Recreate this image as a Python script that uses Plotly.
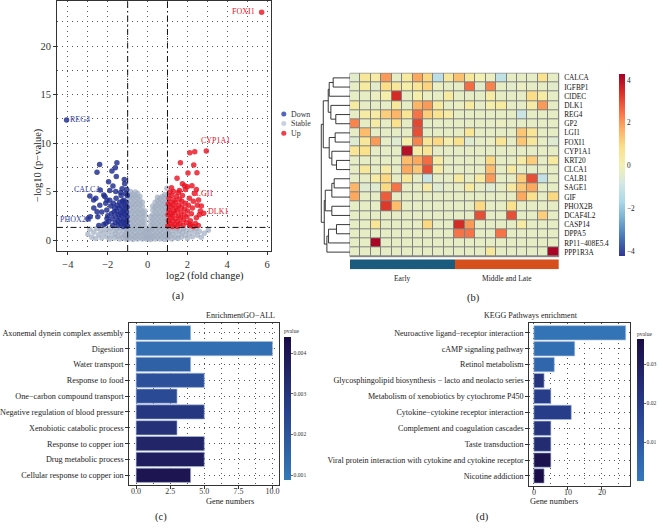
import math
import plotly.graph_objects as go

W, H = 659, 531
FONT = "Liberation Serif, Times New Roman, serif"


def px(x):
    return x / W


def py(y):
    return 1 - y / H


# ------------------------------------------------------------------ (a) volcano data
# stable genes: columns of (log2FC) -> list of -log10(p)
STABLE_COLS = {
    -0.98: [0.1, 0.55, 1.0, 1.5, 1.95, 2.45, 2.9, 3.4, 3.85, 4.3, 4.75],
    -0.86: [0.3, 0.8, 1.25, 1.7, 2.2, 2.65, 3.15, 3.6, 4.1, 4.55, 5.0],
    -0.74: [0.05, 0.5, 1.0, 1.45, 1.95, 2.4, 2.9, 3.35, 3.8, 4.3, 4.7],
    -0.62: [0.25, 0.7, 1.2, 1.65, 2.15, 2.6, 3.05, 3.55, 4.0, 4.5, 4.95],
    -0.50: [0.1, 0.55, 1.05, 1.5, 2.0, 2.45, 2.95, 3.4, 3.9, 4.35, 4.8],
    -0.38: [0.3, 0.75, 1.25, 1.7, 2.2, 2.65, 3.1, 3.6, 4.05, 4.5],
    -0.26: [0.1, 0.6, 1.05, 1.55, 2.0, 2.5, 2.95, 3.45, 3.9],
    -0.14: [0.2, 0.65, 1.15, 1.6, 2.1, 2.55, 3.0],
    -0.05: [0.1, 0.5, 0.95],
    0.06: [0.15, 0.6, 1.05],
    0.15: [0.05, 0.5, 1.0, 1.45, 1.9, 2.4],
    0.26: [0.25, 0.7, 1.2, 1.65, 2.15, 2.6, 3.1, 3.5],
    0.38: [0.1, 0.55, 1.05, 1.5, 2.0, 2.45, 2.95, 3.4, 3.9],
    0.50: [0.3, 0.75, 1.25, 1.7, 2.2, 2.65, 3.15, 3.6, 4.05, 4.4],
    0.62: [0.1, 0.55, 1.0, 1.5, 1.95, 2.45, 2.9, 3.4, 3.85, 4.3],
    0.74: [0.25, 0.7, 1.2, 1.65, 2.15, 2.6, 3.1, 3.55, 4.0, 4.5],
    0.86: [0.05, 0.5, 1.0, 1.45, 1.95, 2.4, 2.9, 3.35, 3.85, 4.3, 4.7],
    0.97: [0.3, 0.75, 1.25, 1.7, 2.2, 2.65, 3.15, 3.6, 4.05, 4.55, 5.35],
}
STABLE_BAND = [
    (-3.0, 0.6), (-2.9, 1.1), (-2.8, 0.3), (-2.7, 0.8), (-2.6, 0.15), (-2.55, 1.2),
    (-2.45, 0.55), (-2.35, 1.0), (-2.3, 0.2), (-2.2, 0.7), (-2.1, 1.15), (-2.05, 0.35),
    (-1.95, 0.85), (-1.9, 0.1), (-1.85, 1.25), (-1.8, 0.5), (-1.7, 0.95), (-1.65, 0.2),
    (-1.6, 0.65), (-1.55, 1.2), (-1.5, 0.4), (-1.45, 0.9), (-1.4, 0.1), (-1.35, 1.25),
    (-1.3, 0.6), (-1.25, 0.25), (-1.2, 1.0), (-1.15, 0.5), (-1.1, 0.1), (-1.08, 1.2),
    (-1.05, 0.75), (-1.02, 0.3),
    (1.02, 0.2), (1.05, 0.7), (1.08, 1.2), (1.12, 0.45), (1.18, 0.95), (1.22, 0.1),
    (1.28, 0.6), (1.32, 1.25), (1.38, 0.3), (1.42, 0.85), (1.48, 1.15), (1.52, 0.15),
    (1.58, 0.55), (1.62, 1.0), (1.7, 0.3), (1.75, 0.8), (1.8, 1.2), (1.88, 0.5),
    (1.95, 0.95), (2.0, 0.15), (2.1, 0.65), (2.18, 1.1), (2.25, 0.35), (2.35, 0.85),
    (2.45, 1.2), (2.5, 0.5), (2.6, 0.9), (2.7, 0.3), (2.85, 0.7), (3.05, 1.0),
]
DOWN_PTS = [
    (-1.02, 1.45), (-1.05, 1.9), (-1.03, 2.4), (-1.06, 2.9), (-1.04, 3.4), (-1.08, 3.9), (-1.02, 4.6),
    (-1.12, 1.6), (-1.15, 2.1), (-1.13, 2.6), (-1.18, 3.1), (-1.14, 3.6), (-1.2, 4.1), (-1.1, 4.8),
    (-1.22, 1.4), (-1.25, 1.9), (-1.28, 2.5), (-1.24, 3.0), (-1.3, 3.5), (-1.26, 4.0), (-1.33, 4.6),
    (-1.35, 1.7), (-1.38, 2.2), (-1.36, 2.8), (-1.42, 3.3), (-1.4, 3.9),
    (-1.48, 1.5), (-1.5, 2.0), (-1.46, 2.6), (-1.55, 3.0), (-1.52, 3.6), (-1.58, 4.3),
    (-1.62, 1.8), (-1.6, 2.4), (-1.68, 2.9), (-1.65, 3.3), (-1.72, 3.8),
    (-1.75, 1.5), (-1.78, 2.2), (-1.82, 2.7), (-1.85, 3.5), (-1.9, 4.1),
    (-1.95, 1.9), (-2.0, 2.5), (-2.05, 3.1), (-2.1, 3.8), (-2.15, 4.5),
    (-2.2, 1.6), (-2.09, 1.72), (-2.04, 2.23), (-2.3, 2.9), (-2.54, 2.92), (-2.88, 2.4),
    (-2.5, 2.4), (-2.4, 3.6), (-2.6, 4.3), (-2.71, 4.12), (-2.38, 5.15), (-2.2, 4.64),
    (-2.9, 4.55), (-1.96, 6.0), (-1.74, 5.57), (-1.57, 6.56), (-1.79, 7.11), (-1.62, 7.46),
    (-1.54, 7.97), (-2.54, 6.98), (-2.41, 7.8), (-1.35, 4.9), (-1.6, 5.0), (-1.9, 5.1),
    (-2.7, 3.3), (-3.0, 2.2), (-2.45, 1.5), (-1.17, 6.25), (-1.28, 5.3), (-2.04, 4.12),
    (-1.05, 5.2), (-1.15, 5.8), (-4.07, 12.37),
]
UP_PTS = [
    (1.02, 1.45), (1.05, 2.0), (1.03, 2.6), (1.07, 3.1), (1.04, 3.7), (1.08, 4.3), (1.1, 4.9),
    (1.13, 1.7), (1.16, 2.3), (1.14, 2.8), (1.18, 3.4), (1.15, 3.9), (1.2, 4.6),
    (1.25, 1.4), (1.27, 1.95), (1.24, 2.5), (1.3, 3.0), (1.28, 3.6), (1.33, 4.1), (1.3, 5.0),
    (1.38, 1.6), (1.4, 2.2), (1.37, 2.8), (1.43, 3.3), (1.41, 3.9), (1.45, 4.5),
    (1.5, 1.4), (1.52, 1.9), (1.55, 2.5), (1.5, 3.1), (1.57, 3.6), (1.6, 4.2), (1.55, 4.9),
    (1.63, 1.7), (1.66, 2.3), (1.68, 2.9), (1.7, 3.4), (1.72, 4.0), (1.75, 4.6),
    (1.78, 1.5), (1.8, 2.1), (1.83, 2.6), (1.86, 3.2), (1.88, 3.8), (1.9, 5.2),
    (1.95, 1.8), (1.98, 2.4), (2.0, 3.0), (2.05, 3.6), (2.1, 4.3),
    (2.12, 1.5), (2.15, 2.0), (2.2, 2.7), (2.25, 3.3), (2.3, 4.0), (2.35, 4.8),
    (2.4, 1.7), (2.45, 2.3), (2.5, 3.6), (2.56, 4.12), (2.6, 2.6), (2.65, 2.99),
    (2.82, 2.75), (2.7, 3.5), (2.15, 1.62), (2.3, 1.4), (2.55, 1.5), (2.0, 5.5),
    (2.12, 9.0), (2.37, 9.1), (2.95, 9.18), (1.65, 7.97), (2.32, 7.73), (2.03, 6.9),
    (2.48, 6.94), (1.48, 6.36), (1.86, 5.6), (2.23, 5.59), (1.75, 5.8), (1.2, 5.4),
    (2.45, 5.2), (1.6, 5.1), (5.73, 23.5),
]
GENE_LABELS = [  # gene, group, label x, label y
    ("FOXI1", "Up", 4.84, 23.6),
    ("REG4", "Down", -3.37, 12.4),
    ("CALCA", "Down", -3.03, 5.19),
    ("PHOX2B", "Down", -3.63, 2.13),
    ("CYP1A1", "Up", 3.39, 10.25),
    ("LGI1", "Up", 2.86, 4.8),
    ("DLK1", "Up", 3.53, 2.92),
]
GROUPS = ["Down", "Stable", "Up"]
GROUP_COLORS = {"Down": "#1f2c8e", "Stable": "#9fadc0", "Up": "#e8101f"}
GROUP_KEY_COLORS = {"Down": "#5565b8", "Stable": "#c9d1dd", "Up": "#ee3f4c"}
FC_CUT = 1.0
P_CUT = 0.05

# ------------------------------------------------------------------ (b) heatmap data
GENES = ["CALCA", "IGFBP1", "CIDEC", "DLK1", "REG4", "GP2", "LGI1", "FOXI1", "CYP1A1",
         "KRT20", "CLCA1", "CALB1", "SAGE1", "GIF", "PHOX2B", "DCAF4L2", "CASP14",
         "DPPA5", "RP11\u2212408E5.4", "PPP1R3A"]
HEAT = [
    [-0.4, 0.5, 0.3, 2.0, -0.3, 0.4, 1.8, 1.0, -1.3, 0.5, 1.4, 0.5, 0.0, -0.2, -1.2, -0.3, -0.3, -0.3, 0.7, -0.3],
    [-0.3, 0.4, -0.4, 0.9, 0.5, 0.2, 0.6, 1.1, -0.2, -0.3, -0.3, 2.6, -0.4, 2.3, -0.3, -0.4, -0.2, -0.3, -0.3, -0.4],
    [-0.3, -0.3, -0.2, 0.2, 3.5, -0.3, 0.2, -0.2, -0.3, 0.4, -0.3, -0.3, -0.3, 0.3, -0.3, -0.3, -0.3, 0.9, 0.3, -0.3],
    [0.4, -0.3, -0.3, -0.3, 0.5, -0.3, 1.6, 2.0, 0.4, -0.3, -0.2, 0.4, -0.3, 0.2, 0.4, -0.3, -0.3, 0.3, 2.0, -0.3],
    [-0.3, 0.3, 0.3, 1.2, 1.6, 0.6, 2.5, 1.2, 0.7, 0.3, -0.3, -0.3, -0.3, -0.3, -0.3, -0.3, -1.0, -0.3, -0.3, -0.3],
    [2.3, -0.3, 0.3, -0.3, 0.8, -0.3, 3.1, -0.3, -0.3, -0.3, -0.3, -0.3, -0.3, -0.3, -0.2, -0.3, -0.3, -0.3, -0.3, -0.3],
    [-0.3, 1.5, -0.3, -0.3, -0.3, -0.3, 3.0, -0.3, -0.3, -0.3, -0.3, 0.6, -0.3, -0.3, -0.3, -0.3, 1.3, 0.6, -0.3, -0.3],
    [-0.5, 0.5, 2.0, -0.3, -0.5, 0.2, 2.3, 0.6, 1.0, 0.2, 0.8, -0.5, -0.3, -0.2, 0.6, -0.3, 1.3, 0.5, -0.3, -0.5],
    [0.6, 0.8, -0.3, -0.3, -0.3, 4.0, 0.3, 0.6, -0.3, -0.3, -0.3, -0.3, -0.3, -0.3, -0.3, -0.3, -0.3, -0.3, -0.3, -0.3],
    [-0.3, -0.3, -0.3, -0.3, -0.3, 1.5, 1.8, 2.6, 0.3, -0.3, -0.3, -0.3, -0.3, 1.0, -0.3, -0.3, 0.3, 1.2, -0.3, 0.4],
    [-0.3, 0.5, -0.3, 0.3, -0.3, 1.8, 1.3, 3.0, 0.3, -0.3, -0.3, -0.3, -0.3, 1.5, -0.3, 0.4, -0.3, -0.3, -0.3, -0.3],
    [-0.3, -0.3, 0.3, 1.0, -0.3, 0.5, -0.3, -1.0, -0.3, -0.3, 0.4, -0.3, 0.4, 2.0, -0.3, -0.3, 1.2, 3.0, -1.2, -0.3],
    [1.6, -0.5, -0.5, 1.0, 2.5, -0.3, -0.3, 0.3, -0.5, -0.3, -0.3, 0.4, -0.3, -0.5, -0.3, 0.4, 1.3, 1.8, -0.3, -0.3],
    [1.8, -0.3, -0.3, 2.8, -0.3, -0.3, -0.3, -0.3, -0.3, -0.3, -0.3, -0.3, -0.3, -0.3, -0.3, -0.3, 1.8, 0.8, -0.3, 1.0],
    [-0.3, -0.3, -0.3, 3.3, 1.5, -0.3, -0.3, -0.3, -0.3, -0.3, -0.3, -0.3, 1.0, -0.3, -0.3, 0.8, -0.3, -0.3, -0.3, -0.3],
    [-0.3, -0.3, -0.3, -0.3, -0.3, -0.3, -0.3, -0.3, -0.3, -0.3, -0.3, -0.3, 3.0, -0.3, -0.3, 3.0, -0.3, -0.3, 1.2, -0.3],
    [-0.3, -0.3, 0.6, -0.3, -0.3, -0.3, -0.3, 1.0, -0.3, -0.3, 3.5, 2.0, -0.3, -0.3, -0.3, -0.3, 0.3, -0.3, -0.3, -0.3],
    [-0.3, -0.3, -0.3, -0.3, -0.3, -0.3, -0.3, -0.3, -0.3, -0.3, 2.5, 2.5, -0.3, -0.3, 2.5, -0.3, -0.3, -0.3, -0.3, -0.3],
    [-0.3, -0.3, 4.2, -0.3, -0.3, -0.3, -0.3, -0.3, -0.3, -0.3, -0.3, -0.3, -0.3, -0.3, -0.3, -0.3, -0.3, -0.3, -0.3, -0.3],
    [-0.3, -0.3, -0.3, -0.3, -0.3, -0.3, -0.3, -0.3, -0.3, -0.3, -0.3, -0.3, -0.3, 0.5, -0.3, -0.3, -0.3, -0.3, -0.3, 4.2],
]
HEAT_ZMIN, HEAT_ZMAX = -4.2, 4.28
SAMPLE_GROUPS = ["Early"] * 10 + ["Middle and Late"] * 10
GROUP_NAMES = ["Early", "Middle and Late"]
GROUP_BAR_COLORS = ["#1b5c7e", "#d5501c"]
# row dendrogram merges: (left id, right id, height); new ids start at 20
MERGES = [(0, 1, 51), (20, 2, 63), (4, 5, 43), (3, 22, 58), (21, 23, 66), (6, 7, 45),
          (9, 10, 41), (8, 26, 55), (25, 27, 63), (24, 28, 81), (11, 12, 48), (30, 13, 55),
          (14, 15, 55), (31, 32, 75), (16, 17, 41), (34, 18, 65), (35, 19, 70), (33, 36, 78),
          (29, 37, 87)]
HEAT_COLORS = ["#313695", "#4575b4", "#74add1", "#abd9e9", "#d3e8e2", "#f3f1b2",
               "#fbdf88", "#fdae61", "#f46d43", "#d73027", "#a50026"]

# ------------------------------------------------------------------ (c) GO data
GO_TERMS = ["Axonemal dynein complex assembly", "Digestion", "Water transport",
            "Response to food", "One\u2212carbon compound transport",
            "Negative regulation of blood pressure", "Xenobiotic catabolic process",
            "Response to copper ion", "Drug metabolic process",
            "Cellular response to copper ion"]
GO_COUNTS = [4, 10, 4, 5, 3, 5, 3, 5, 5, 4]
GO_PVALS = [0.0011, 0.0012, 0.0016, 0.0021, 0.0023, 0.0029, 0.0031, 0.0035, 0.0038, 0.0041]
GO_PRANGE = (0.00088, 0.0044)
GO_PTICKS = [0.001, 0.002, 0.003, 0.004]

# ------------------------------------------------------------------ (d) KEGG data
KEGG_TERMS = ["Neuroactive ligand\u2212receptor interaction", "cAMP signaling pathway",
              "Retinol metabolism",
              "Glycosphingolipid biosynthesis \u2212 lacto and neolacto series",
              "Metabolism of xenobiotics by cytochrome P450",
              "Cytokine\u2212cytokine receptor interaction",
              "Complement and coagulation cascades", "Taste transduction",
              "Viral protein interaction with cytokine and cytokine receptor",
              "Nicotine addiction"]
KEGG_COUNTS = [27, 12, 6, 3, 5, 11, 5, 5, 5, 3]
KEGG_PVALS = [0.0015, 0.003, 0.006, 0.022, 0.019, 0.019, 0.022, 0.025, 0.034, 0.036]
KEGG_PRANGE = (0.0, 0.0364)
KEGG_PTICKS = [0.01, 0.02, 0.03]

PV_SCALE = [[0, "#3479ba"], [0.5, "#283f8c"], [1, "#1b0c45"]]

# ================================================================== figure
fig = go.Figure()
annotations = []
shapes = []

# ---------------- (a) volcano
stable_x, stable_y = [], []
for xv, ys in STABLE_COLS.items():
    for yv in ys:
        stable_x.append(xv)
        stable_y.append(yv)
for xv, yv in STABLE_BAND:
    stable_x.append(xv)
    stable_y.append(yv)

fig.add_trace(go.Scatter(x=stable_x, y=stable_y, mode="markers", name="Stable",
                         marker=dict(size=5.5, color=GROUP_COLORS["Stable"], opacity=0.7),
                         xaxis="x", yaxis="y", hoverinfo="skip"))
fig.add_trace(go.Scatter(x=[p[0] for p in DOWN_PTS], y=[p[1] for p in DOWN_PTS],
                         mode="markers", name="Down",
                         marker=dict(size=5.5, color=GROUP_COLORS["Down"], opacity=0.82),
                         xaxis="x", yaxis="y", hoverinfo="skip"))
fig.add_trace(go.Scatter(x=[p[0] for p in UP_PTS], y=[p[1] for p in UP_PTS],
                         mode="markers", name="Up",
                         marker=dict(size=5.5, color=GROUP_COLORS["Up"], opacity=0.8),
                         xaxis="x", yaxis="y", hoverinfo="skip"))

LABEL_COLORS = {"Down": "#3444a4", "Up": "#e8101f"}
for gene, grp, lx, ly in GENE_LABELS:
    annotations.append(dict(x=lx, y=ly, xref="x", yref="y", text=gene, showarrow=False,
                            font=dict(family=FONT, size=8, color=LABEL_COLORS[grp])))

DASHDOT = "6px,3px,1.5px,3px"
for xv in (-FC_CUT, FC_CUT):
    shapes.append(dict(type="line", xref="x", yref="y domain", x0=xv, x1=xv, y0=0, y1=1,
                       line=dict(color="#111", width=1, dash=DASHDOT)))
pthr = -math.log10(P_CUT)
shapes.append(dict(type="line", xref="x domain", yref="y", x0=0, x1=1, y0=pthr, y1=pthr,
                   line=dict(color="#111", width=1, dash=DASHDOT)))

# manual legend
for i, grp in enumerate(GROUPS):
    cy = 114 + i * 9.6
    shapes.append(dict(type="circle", xref="paper", yref="paper",
                       x0=px(281.3), x1=px(286.3), y0=py(cy + 2.5), y1=py(cy - 2.5),
                       fillcolor=GROUP_KEY_COLORS[grp], line=dict(width=0)))
    annotations.append(dict(x=px(289), y=py(cy), xref="paper", yref="paper", text=grp,
                            showarrow=False, xanchor="left", yanchor="middle",
                            font=dict(family=FONT, size=7.9, color="#333")))

annotations.append(dict(x=px(163.5), y=py(276), xref="paper", yref="paper",
                        text="log2 (fold change)", showarrow=False,
                        font=dict(family=FONT, size=10.5, color="#222")))
annotations.append(dict(x=px(30.5), y=py(126.5), xref="paper", yref="paper",
                        text="\u2212log10 (p\u2212value)", showarrow=False, textangle=-90,
                        font=dict(family=FONT, size=10.5, color="#222")))

GRID_DOT = "1px,4px"
frame = dict(showline=True, mirror=True, linecolor="#333", linewidth=1, zeroline=False,
             ticks="outside", ticklen=3, tickcolor="#333", automargin=False,
             tickfont=dict(family=FONT, size=10.5, color="#333"))

# ---------------- (b) heatmap + dendrogram + annotation bar
pos = {i: (0.0, float(i)) for i in range(len(GENES))}
dx, dy = [], []
for k, (a, b, h) in enumerate(MERGES):
    ha, ya = pos[a]
    hb, yb = pos[b]
    dx += [ha, h, h, hb, None]
    dy += [ya, ya, yb, yb, None]
    pos[len(GENES) + k] = (h, (ya + yb) / 2)
fig.add_trace(go.Scatter(x=dx, y=dy, mode="lines", line=dict(color="#222", width=0.9),
                         xaxis="x3", yaxis="y3", hoverinfo="skip"))

n = len(HEAT_COLORS)
heat_scale = [[i / (n - 1), c] for i, c in enumerate(HEAT_COLORS)]
fig.add_trace(go.Heatmap(
    z=HEAT, x=list(range(len(HEAT[0]))), y=list(range(len(GENES))),
    colorscale=heat_scale, zmin=HEAT_ZMIN, zmax=HEAT_ZMAX, xgap=1, ygap=1,
    xaxis="x2", yaxis="y2", hoverinfo="skip",
    colorbar=dict(x=px(619), xanchor="left", xpad=0, ypad=0, thickness=6,
                  thicknessmode="pixels", len=182 / H, lenmode="fraction",
                  y=py(165), yanchor="middle", tickvals=[-4, -2, 0, 2, 4], ticks="",
                  outlinewidth=0, tickfont=dict(family=FONT, size=7.3, color="#222"))))
shapes.append(dict(type="rect", xref="x2 domain", yref="y2 domain", x0=0, x1=1, y0=0, y1=1,
                   fillcolor="#808080", line=dict(color="#808080", width=1), layer="below"))

grp_idx = [GROUP_NAMES.index(g) for g in SAMPLE_GROUPS]
fig.add_trace(go.Heatmap(
    z=[grp_idx], x=list(range(len(SAMPLE_GROUPS))), y=[0],
    colorscale=[[0, GROUP_BAR_COLORS[0]], [0.5, GROUP_BAR_COLORS[0]],
                [0.5, GROUP_BAR_COLORS[1]], [1, GROUP_BAR_COLORS[1]]],
    zmin=0, zmax=1, showscale=False, xaxis="x4", yaxis="y4", hoverinfo="skip"))
for gi, gname in enumerate(GROUP_NAMES):
    cols = [i for i, g in enumerate(SAMPLE_GROUPS) if g == gname]
    annotations.append(dict(x=sum(cols) / len(cols), y=py(278), xref="x4", yref="paper",
                            text=gname, showarrow=False, yanchor="middle",
                            font=dict(family=FONT, size=7.5, color="#222")))

# ---------------- (c) GO bars
fig.add_trace(go.Bar(
    y=GO_TERMS, x=GO_COUNTS, orientation="h", width=0.9, xaxis="x5", yaxis="y5",
    hoverinfo="skip",
    marker=dict(color=GO_PVALS, colorscale=PV_SCALE, cmin=GO_PRANGE[0], cmax=GO_PRANGE[1],
                line=dict(color="rgba(170,190,225,0.9)", width=0.7), showscale=True,
                colorbar=dict(x=px(284), xanchor="left", xpad=0, ypad=0, thickness=7,
                              thicknessmode="pixels", len=154 / H, lenmode="fraction",
                              y=py(403), yanchor="middle", tickvals=GO_PTICKS,
                              ticktext=[f"{v:.3f}" for v in GO_PTICKS], ticks="outside",
                              ticklen=2, tickwidth=0.6, tickcolor="#666", outlinewidth=0,
                              tickfont=dict(family=FONT, size=5.6, color="#333"),
                              title=dict(text="pvalue", side="top",
                                         font=dict(family=FONT, size=5.6, color="#333"))))))

# ---------------- (d) KEGG bars
fig.add_trace(go.Bar(
    y=KEGG_TERMS, x=KEGG_COUNTS, orientation="h", width=0.9, xaxis="x6", yaxis="y6",
    hoverinfo="skip",
    marker=dict(color=KEGG_PVALS, colorscale=PV_SCALE, cmin=KEGG_PRANGE[0],
                cmax=KEGG_PRANGE[1], line=dict(color="rgba(170,190,225,0.9)", width=0.7),
                showscale=True,
                colorbar=dict(x=px(637), xanchor="left", xpad=0, ypad=0, thickness=7,
                              thicknessmode="pixels", len=153 / H, lenmode="fraction",
                              y=py(405), yanchor="middle", tickvals=KEGG_PTICKS,
                              ticktext=[f"{v:.2f}" for v in KEGG_PTICKS], ticks="outside",
                              ticklen=2, tickwidth=0.6, tickcolor="#666", outlinewidth=0,
                              tickfont=dict(family=FONT, size=5.6, color="#333"),
                              title=dict(text="pvalue", side="top",
                                         font=dict(family=FONT, size=5.6, color="#333"))))))

for txt, cx in (("EnrichmentGO\u2212ALL", 204.3), ("KEGG Pathways enrichment", 579.8)):
    annotations.append(dict(x=px(cx), y=py(315), xref="paper", yref="paper", text=txt,
                            showarrow=False, font=dict(family=FONT, size=8, color="#222")))
for cx in (204.3, 579.8):
    annotations.append(dict(x=px(cx), y=py(508), xref="paper", yref="paper",
                            text="Gene numbers", showarrow=False,
                            font=dict(family=FONT, size=8.3, color="#222")))

for lab, cx, cy in (("(a)", 170, 296), ("(b)", 481.7, 298.3), ("(c)", 153, 525),
                    ("(d)", 491, 525)):
    annotations.append(dict(x=px(cx), y=py(cy), xref="paper", yref="paper", text=lab,
                            showarrow=False, font=dict(family=FONT, size=10.5, color="#222")))

small_frame = dict(showline=True, mirror=True, linecolor="#333", linewidth=1, zeroline=False,
                   ticks="outside", ticklen=3, tickcolor="#333", automargin=False)
grid = dict(showgrid=True, griddash=GRID_DOT, gridcolor="#555", gridwidth=1)

fig.update_layout(
    width=W, height=H, margin=dict(l=0, r=0, t=0, b=0, autoexpand=False), showlegend=False,
    paper_bgcolor="white", plot_bgcolor="white",
    font=dict(family=FONT, color="#222"),
    xaxis=dict(domain=[px(57), px(271)], range=[-4.55, 6.2], tickmode="linear", tick0=0,
               dtick=2, **frame, **grid,
               minor=dict(dtick=1, tick0=0, showgrid=True, griddash=GRID_DOT,
                          gridcolor="#555", gridwidth=1)),
    yaxis=dict(domain=[py(251), py(0.5)], range=[-1.13, 24.7], tickmode="linear", tick0=0,
               dtick=5, **frame, **grid,
               minor=dict(dtick=2.5, tick0=0, showgrid=True, griddash=GRID_DOT,
                          gridcolor="#555", gridwidth=1)),
    xaxis2=dict(domain=[px(350), px(558.7)], range=[-0.5, 19.5], visible=False,
                anchor="y2", automargin=False),
    yaxis2=dict(domain=[py(256.7), py(73.3)], range=[19.5, -0.5], anchor="x2", side="right",
                tickvals=list(range(len(GENES))), ticktext=GENES, showgrid=False,
                zeroline=False, showline=False, ticks="outside", ticklen=3,
                tickcolor="rgba(0,0,0,0)", automargin=False,
                tickfont=dict(family=FONT, size=7.3, color="#111")),
    xaxis3=dict(domain=[px(320), px(350)], range=[90.9, 0], visible=False, anchor="y3",
                automargin=False),
    yaxis3=dict(domain=[py(256.7), py(73.3)], range=[19.5, -0.5], visible=False,
                anchor="x3", automargin=False),
    xaxis4=dict(domain=[px(350), px(558.7)], range=[-0.5, 19.5], visible=False, anchor="y4",
                automargin=False),
    yaxis4=dict(domain=[py(269.3), py(259.3)], range=[-0.5, 0.5], visible=False,
                anchor="x4", automargin=False),
    xaxis5=dict(domain=[px(129.3), px(279.3)], range=[-0.5, 10.5], anchor="y5",
                tickvals=[0, 2.5, 5, 7.5, 10], ticktext=["0.0", "2.5", "5.0", "7.5", "10.0"],
                **small_frame, **grid, ticklabelstandoff=-4,
                minor=dict(dtick=1.25, tick0=0, showgrid=True, griddash=GRID_DOT,
                           gridcolor="#555", gridwidth=1),
                tickfont=dict(family=FONT, size=8.0, color="#333")),
    yaxis5=dict(domain=[py(484.8), py(323.3)], anchor="x5", type="category",
                categoryorder="array", categoryarray=GO_TERMS, range=[9.6, -0.6],
                **small_frame, **grid,
                tickfont=dict(family=FONT, size=8.2, color="#222")),
    xaxis6=dict(domain=[px(529.3), px(630.3)], range=[-1.35, 28.35], anchor="y6",
                tickvals=[0, 10, 20], **small_frame, **grid, ticklabelstandoff=-4,
                minor=dict(dtick=5, tick0=0, showgrid=True, griddash=GRID_DOT,
                           gridcolor="#555", gridwidth=1),
                tickfont=dict(family=FONT, size=8.0, color="#333")),
    yaxis6=dict(domain=[py(485.5), py(323.3)], anchor="x6", type="category",
                categoryorder="array", categoryarray=KEGG_TERMS, range=[9.6, -0.6],
                **small_frame, **grid,
                tickfont=dict(family=FONT, size=8.1, color="#222")),
    annotations=annotations,
    shapes=shapes,
)

fig.write_html("out.html", config={"displayModeBar": False},
               post_script="document.body.style.margin='0';document.body.style.padding='0';")
